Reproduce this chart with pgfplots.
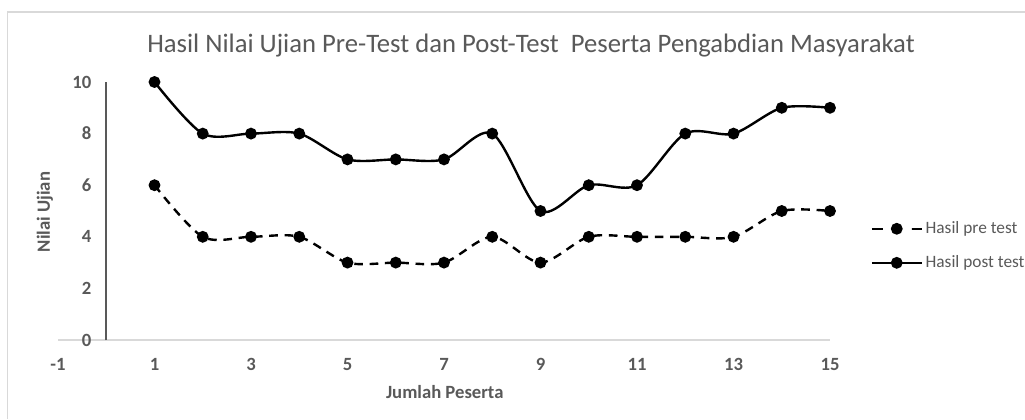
\documentclass[border=0pt]{standalone}
\usepackage{pgfplots}
\pgfplotsset{compat=1.18}
\usepackage{fontspec}
\setmainfont{Carlito}
\definecolor{txt}{HTML}{595959}
\definecolor{lgray}{HTML}{D9D9D9}
\pgfplotsset{
  prelegend/.style={legend image code/.code={\draw[mark repeat=2,mark phase=2,##1,dash pattern=on 7.5pt off 7.5pt] plot coordinates {(0pt,0pt) (18.75pt,0pt) (37.5pt,0pt)};}},
}
\begin{document}
\begin{tikzpicture}[x=1pt,y=1pt]
\useasboundingbox (0,0) rectangle (768.75,314.25);
\draw[lgray, line width=1.2pt] (5.5,0) -- (5.5,305.25) -- (768.75,305.25);
\node[anchor=base, text=txt, font=\fontsize{20}{24}\selectfont] at (398.25,275.25) {Hasil Nilai Ujian Pre-Test dan Post-Test\ \ Peserta Pengabdian Masyarakat};
\begin{axis}[
  at={(43.5pt,59.25pt)}, anchor=south west,
  scale only axis, width=579pt, height=193.5pt,
  xmin=-1, xmax=15, ymin=0, ymax=10,
  axis lines=middle,
  axis line style={-},
  x axis line style={lgray, line width=1.2pt},
  y axis line style={txt, line width=1.2pt},
  hide obscured x ticks=false, hide obscured y ticks=false,
  xtick={-1,1,3,5,7,9,11,13,15},
  ytick={0,2,4,6,8,10},
  major tick length=0pt,
  /pgf/number format/assume math mode=true,
  ticklabel style={font=\fontsize{14}{16}\selectfont\bfseries, text=txt, inner sep=0pt},
  yticklabel style={anchor=east, xshift=-11pt},
  xticklabel style={anchor=base, yshift=-23pt},
  xlabel={Jumlah Peserta}, ylabel={Nilai Ujian},
  xlabel style={at={(axis description cs:0.501,-0.202)}, anchor=center, font=\fontsize{14}{16}\selectfont\bfseries, text=txt},
  ylabel style={at={(axis description cs:-0.017,0.496)}, anchor=center, rotate=90, font=\fontsize{14}{16}\selectfont\bfseries, text=txt},
  legend style={at={(axis description cs:1.047,0.48)}, anchor=north west, draw=none, fill=none, font=\fontsize{13}{15}\selectfont, text=txt, row sep=11pt, /tikz/every even column/.append style={column sep=2pt}},
  legend cell align=left,
  legend image code/.code={\draw[mark repeat=2,mark phase=2,#1] plot coordinates {(0pt,0pt) (18.75pt,0pt) (37.5pt,0pt)};},
  clip=false,
]
\addplot[black, line width=1.8pt, dash pattern=on 6.5pt off 5pt, smooth, mark=*, mark size=3.5pt, mark options={solid}, prelegend] coordinates {
(1,6) (2,4) (3,4) (4,4) (5,3) (6,3) (7,3) (8,4) (9,3) (10,4) (11,4) (12,4) (13,4) (14,5) (15,5)};
\addlegendentry{Hasil pre test}
\addplot[black, line width=1.8pt, smooth, mark=*, mark size=3.5pt] coordinates {
(1,10) (2,8) (3,8) (4,8) (5,7) (6,7) (7,7) (8,8) (9,5) (10,6) (11,6) (12,8) (13,8) (14,9) (15,9)};
\addlegendentry{Hasil post test}
\end{axis}
\end{tikzpicture}
\end{document}
